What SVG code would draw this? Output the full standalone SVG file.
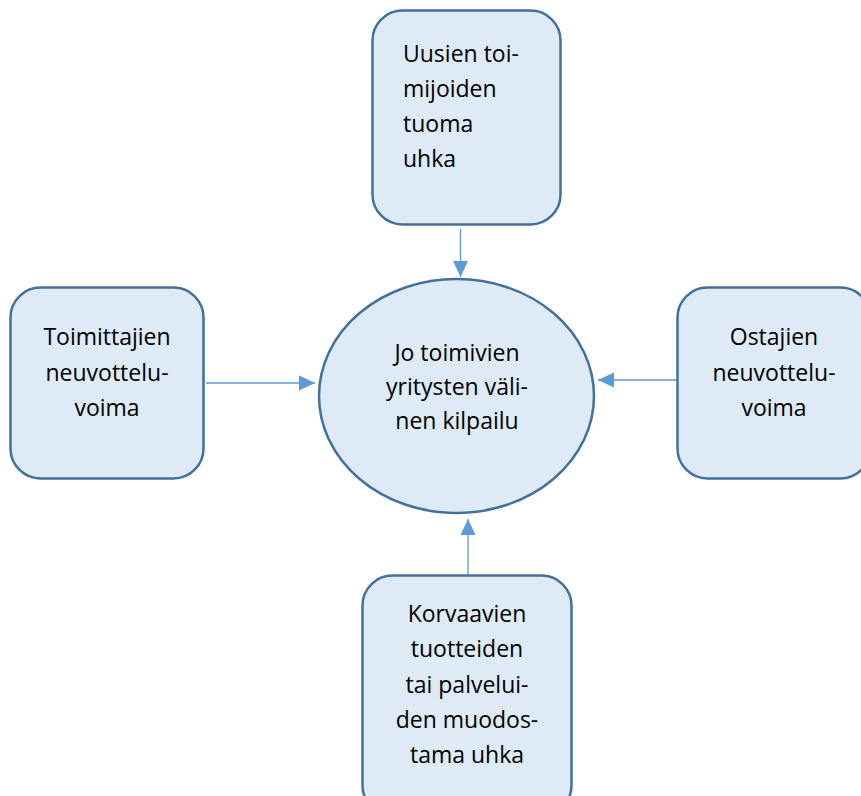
<svg xmlns="http://www.w3.org/2000/svg" width="861" height="796" viewBox="0 0 861 796">
  <style>
    .shape { fill: #DEEAF6; stroke: #41719C; stroke-width: 2.5; }
    .label { font-family: "Open Sans", "Noto Sans", sans-serif; font-size: 23px; fill: #000000; }
    .mid { text-anchor: middle; }
    .conn { stroke: #5B9BD5; stroke-width: 1.3; fill: none; marker-end: url(#head); }
  </style>
  <defs>
    <marker id="head" markerUnits="userSpaceOnUse" markerWidth="16" markerHeight="16" viewBox="0 0 16 16" refX="16" refY="8" orient="auto">
      <path d="M0,0.5 L16,8 L0,15.5 Z" fill="#5B9BD5"/>
    </marker>
  </defs>
  <rect width="861" height="796" fill="#ffffff"/>

  <!-- arrows into the central ellipse -->
  <g id="connectors">
    <line class="conn" x1="460.5" y1="229" x2="460.5" y2="277"/>
    <line class="conn" x1="206" y1="383" x2="315" y2="383"/>
    <line class="conn" x1="677" y1="380" x2="598" y2="380"/>
    <line class="conn" x1="468" y1="575" x2="468" y2="519"/>
  </g>

  <g id="center">
    <ellipse class="shape" cx="456.5" cy="396" rx="137.5" ry="117"/>
    <text class="label mid" x="457" y="361">Jo toimivien</text>
    <text class="label mid" x="457" y="395">yritysten väli-</text>
    <text class="label mid" x="457" y="429">nen kilpailu</text>
  </g>

  <g id="top">
    <rect class="shape" x="372.5" y="10.5" width="188" height="214" rx="30"/>
    <text class="label" x="403" y="62">Uusien toi-</text>
    <text class="label" x="403" y="97">mijoiden</text>
    <text class="label" x="403" y="132">tuoma</text>
    <text class="label" x="403" y="167">uhka</text>
  </g>

  <g id="left">
    <rect class="shape" x="10.5" y="287.5" width="193" height="191" rx="30"/>
    <text class="label mid" x="107" y="345">Toimittajien</text>
    <text class="label mid" x="107" y="380.5">neuvottelu-</text>
    <text class="label mid" x="107" y="416">voima</text>
  </g>

  <g id="right">
    <rect class="shape" x="677.5" y="287.5" width="193" height="191" rx="30"/>
    <text class="label mid" x="774" y="345">Ostajien</text>
    <text class="label mid" x="774" y="380.5">neuvottelu-</text>
    <text class="label mid" x="774" y="416">voima</text>
  </g>

  <g id="bottom">
    <rect class="shape" x="362.5" y="575.5" width="209" height="240" rx="30"/>
    <text class="label mid" x="467" y="622">Korvaavien</text>
    <text class="label mid" x="467" y="657">tuotteiden</text>
    <text class="label mid" x="467" y="693">tai palvelui-</text>
    <text class="label mid" x="467" y="728">den muodos-</text>
    <text class="label mid" x="467" y="763">tama uhka</text>
  </g>
</svg>
